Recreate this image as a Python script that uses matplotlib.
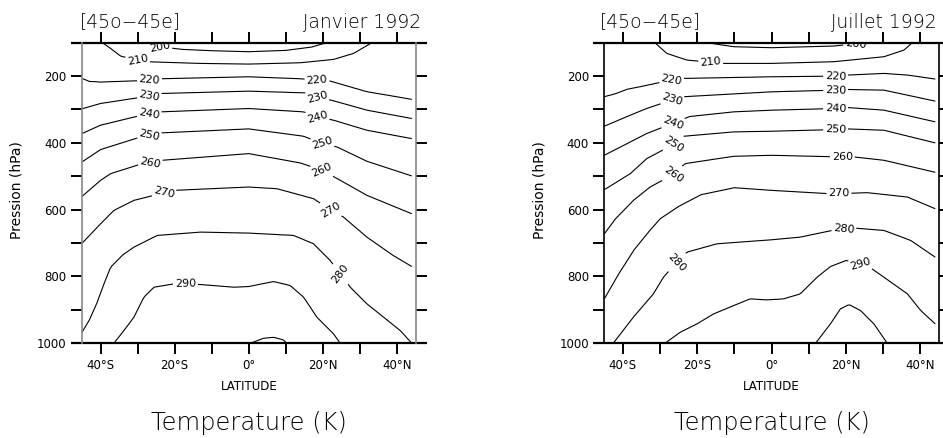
import numpy as np
import matplotlib
matplotlib.use("Agg")
import matplotlib.pyplot as plt

#levels of the contour lines (K)
levels = [200, 210, 220, 230, 240, 250, 260, 270, 280, 290, 300]

#each contour: latitude (deg, S<0) and pressure (hPa) along the line
#Janvier 1992
jan_lat = {
    200: [-28, -24, -18, -10, 0, 10, 17, 21],
    210: [-39.5, -37.3, -34.6, -30, -27.4, -13, 0, 13.9, 22.9, 28.3, 33.2],
    220: [-45, -43, -40, -30, -23.8, 0, 13.9, 18.4, 22, 31.9, 44],
    230: [-45, -40, -30, -23.8, 0, 15, 18.4, 22.9, 31.9, 44],
    240: [-45, -40, -30, -23.8, 0, 14.8, 18.4, 22.9, 31.9, 44],
    250: [-45, -40, -30, -23.8, 0, 14.8, 19.8, 23.8, 31.9, 44],
    260: [-45, -40, -37.3, -29.6, -23.4, 0, 13.9, 19.8, 24.7, 31.9, 44],
    270: [-45, -40, -36.4, -31, -20.2, 0, 7.6, 17.5, 22, 25.6, 31.9, 39, 44],
    280: [-45, -43, -41, -39, -37.3, -34, -31, -24.7, -13, 0, 12.1, 17.5, 22, 27.4, 31.9, 36.4, 40.9, 44],
    290: [-36.4, -33.7, -31, -28.3, -25.6, -20.2, -13, -4, 0, 6.7, 11.2, 14.8, 18.4, 22.9, 24.7],
    300: [0.4, 4, 6.7, 9.4, 10.2],
}
jan_p = {
    200: [100, 112, 120, 124, 127, 123, 113, 100],
    210: [100, 117, 140, 153, 157, 162, 164, 160, 150, 132, 100],
    220: [207, 216, 218, 214, 208, 202, 208, 212, 215, 247, 270],
    230: [298, 282, 265, 252, 245, 250, 262, 274, 302, 327],
    240: [372, 347, 320, 307, 297, 307, 322, 332, 362, 387],
    250: [457, 420, 385, 370, 358, 380, 402, 412, 455, 499],
    260: [560, 512, 492, 465, 452, 432, 460, 482, 512, 557, 612],
    270: [700, 642, 602, 572, 542, 532, 537, 567, 600, 622, 682, 737, 770],
    280: [967, 930, 880, 820, 772, 735, 712, 677, 667, 670, 677, 702, 752, 832, 882, 922, 962, 1000],
    290: [1000, 962, 922, 862, 832, 822, 824, 832, 830, 815, 827, 862, 922, 972, 1000],
    300: [1000, 985, 982, 990, 1000],
}

#Juillet 1992
jul_lat = {
    200: [-17.4, -10.2, 0, 16.7, 22.6, 25],
    210: [-31.4, -28.2, -22.8, -13.4, 0, 16.7, 30.2, 35.6, 37.8],
    220: [-45, -41.7, -39, -35.4, -26.9, -24.2, 0, 17.2, 20.3, 30.2, 36.5, 44],
    230: [-45, -38, -33.6, -27, -24.2, 0, 17.2, 20.3, 30.2, 44],
    240: [-45, -38, -33.6, -26.5, -22, -10.2, 0, 17.2, 20.3, 30.2, 44],
    250: [-45, -38, -33.6, -26.5, -23.7, -10.2, 0, 17.2, 20.3, 30.2, 44],
    260: [-45, -42, -37.2, -32.7, -26.5, -23.3, -10.2, 0, 19, 22.1, 30.2, 44],
    270: [-45, -41, -37, -33, -30, -25, -19, -10, 0, 15.4, 18.1, 25.7, 36.5, 44],
    280: [-42.6, -37.2, -31.8, -29.1, -25.5, -22.8, -14.7, 0, 7.7, 17.2, 22.1, 30.2, 37.4, 44],
    290: [-28.7, -24.6, -20.1, -15.6, -10.2, -5.8, -1.3, 3.2, 7.7, 12.2, 15.8, 20, 23.9, 26.6, 30.2, 36.5, 40.1, 44],
    300: [11.8, 15.8, 18.5, 20.8, 23.9, 27.5, 31.1],
}
jul_p = {
    200: [100, 112, 115, 110, 103, 100],
    210: [100, 132, 152, 162, 162, 157, 142, 122, 100],
    220: [262, 252, 240, 232, 212, 207, 202, 200, 197, 192, 197, 209],
    230: [350, 317, 297, 272, 262, 247, 242, 240, 242, 275],
    240: [437, 397, 372, 341, 321, 307, 302, 297, 294, 302, 337],
    250: [540, 492, 447, 405, 380, 367, 365, 360, 358, 362, 400],
    260: [672, 627, 572, 532, 495, 462, 440, 437, 442, 442, 452, 488],
    270: [867, 790, 720, 665, 627, 590, 555, 534, 542, 552, 552, 549, 562, 597],
    280: [1000, 922, 852, 802, 757, 727, 702, 690, 682, 660, 655, 662, 692, 742],
    290: [1000, 967, 942, 912, 887, 867, 870, 867, 852, 802, 770, 752, 762, 774, 802, 852, 902, 942],
    300: [1000, 942, 897, 884, 902, 942, 1000],
}

#where the contour labels sit (lat, hPa)
jan_labels = [(-24, 112), (-30, 152), (-26.8, 210), (18.4, 212), (-26.8, 259), (18.4, 264),
              (-26.8, 317), (18.4, 324), (-26.8, 377), (19.8, 402), (-26.5, 462), (19.8, 482),
              (-22.9, 547), (22, 602), (24.3, 797), (-17.1, 822)]
jul_labels = [(22.6, 103), (-16.4, 162), (-26.9, 212), (17.2, 200), (-26.7, 272), (17.2, 242),
              (-26.5, 341), (17.2, 297), (-26.2, 405), (17.2, 360), (-26.5, 495), (19, 442),
              (18.1, 552), (-25.5, 757), (19.4, 655), (23.9, 762)]

xtick_pos = [-40, -30, -20, -10, 0, 10, 20, 30, 40]
xtick_lab = ["40°S", "", "20°S", "", "0°", "", "20°N", "", "40°N"]
ytick_pos = [100, 200, 300, 400, 500, 600, 700, 800, 900, 1000]
ytick_lab = ["", "200", "", "400", "", "600", "", "800", "", "1000"]


def build_field(line_lat, line_p, grid_lat, grid_p):
    #temperature field whose isolines go through the lines
    field = np.full((len(grid_p), len(grid_lat)), np.nan)
    for j, la in enumerate(grid_lat):
        pts = []
        for lev in levels:
            xs = np.array(line_lat[lev])
            if xs.min() - 1e-6 <= la <= xs.max() + 1e-6:
                pts.append((np.interp(la, xs, line_p[lev]), lev))
        pts.sort()
        ps = [q[0] for q in pts]
        ts = [float(q[1]) for q in pts]
        gap_top = ps[1] - ps[0] if len(ps) > 1 else 80
        gap_bot = ps[-1] - ps[-2] if len(ps) > 1 else 80
        ps = [100.0] + ps + [1000.0]
        ts = [ts[0] - 10 * min(0.9, (ps[1] - 100) / gap_top)] + ts + \
             [ts[-1] + 10 * min(0.9, (1000 - ps[-2]) / gap_bot)]
        field[:, j] = np.interp(grid_p, ps, ts)
    return field


grid_lat = np.linspace(-45, 44, 179)
grid_p = np.linspace(100, 1000, 451)

fig = plt.figure(figsize=(9.43, 4.38), dpi=100)

#data sets, axes edges (px), frame colour, title edges (px)
panels = [
    (jan_lat, jan_p, jan_labels, "Janvier 1992", 82, 415.5, "#888888", 80, 421.7),
    (jul_lat, jul_p, jul_labels, "Juillet 1992", 604.3, 939, "black", 600, 936.7),
]

thin = dict(family="DejaVu Sans", fontweight="light", color="black")

for line_lat, line_p, lab_pos, month, x0, x1, frame_col, t0, t1 in panels:
    ax = fig.add_axes([x0 / 943, (438 - 343.3) / 438, (x1 - x0) / 943, 300.6 / 438])
    T = build_field(line_lat, line_p, grid_lat, grid_p)
    cs = ax.contour(grid_lat, grid_p, T, levels=levels, colors="black", linewidths=0.8)
    txts = ax.clabel(cs, fmt="%d", fontsize=8, inline=True, inline_spacing=2, manual=lab_pos)
    for t in txts:
        t.set_clip_on(True)

    ax.set_xlim(-45, 45)
    ax.set_ylim(1000, 100)
    ax.set_xticks(xtick_pos)
    ax.set_xticklabels(xtick_lab, fontsize=8.5)
    ax.set_yticks(ytick_pos)
    ax.set_yticklabels(ytick_lab, fontsize=8.5)
    ax.tick_params(direction="out", length=8, width=1.4, top=True, right=True, pad=3)

    #frame: verticals, long black horizontals
    for s in ["top", "bottom"]:
        ax.spines[s].set_visible(False)
    for s in ["left", "right"]:
        ax.spines[s].set_color(frame_col)
        ax.spines[s].set_linewidth(1.2)
    ext = 11 / (x1 - x0)
    for yy in [0, 1]:
        ax.plot([-ext, 1 + ext], [yy, yy], transform=ax.transAxes, color="black",
                lw=1.6, clip_on=False, solid_capstyle="butt")

    xc = (x0 + x1) / 2
    fig.text(t0 / 943, 1 - 22 / 438, "[45o\u221245e]", ha="left", va="center",
             fontsize=13.5, **thin)
    fig.text(t1 / 943, 1 - 22 / 438, month, ha="right", va="center",
             fontsize=13.5, **thin)
    fig.text(xc / 943, 1 - 386 / 438, "LATITUDE", ha="center", va="center", fontsize=8.5)
    fig.text(xc / 943, 1 - 423 / 438, "Temperature (K)", ha="center", va="center",
             fontsize=17.5, **thin)
    fig.text((x0 - 65) / 943, 1 - 190 / 438, "Pression (hPa)", ha="center", va="center",
             rotation=90, fontsize=10)

plt.savefig("out.png", dpi=100)
